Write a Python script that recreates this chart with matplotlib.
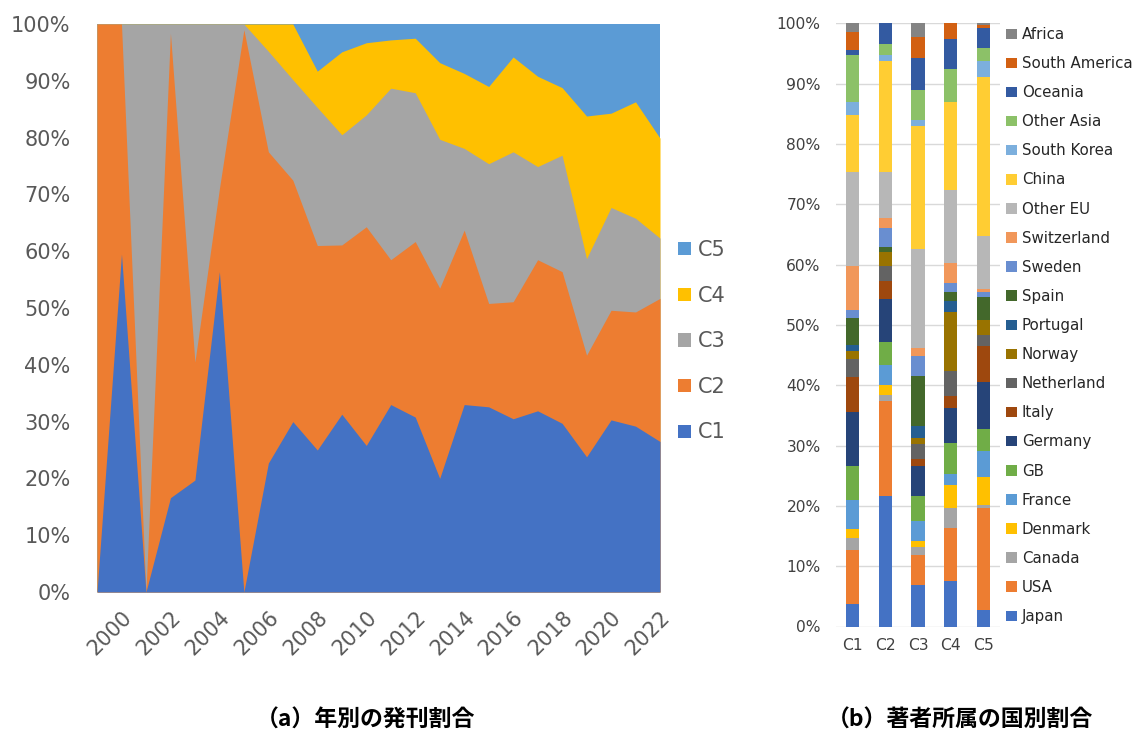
import matplotlib
matplotlib.use("Agg")
import matplotlib.pyplot as plt
from matplotlib.patches import Patch
import numpy as np

plt.rcParams['font.family'] = ['DejaVu Sans', 'Noto Sans CJK JP']

# ---- (a) yearly share of publications per cluster (%) ----
years = list(range(1999, 2023))
c1 = [0, 59.5, 0, 16.6, 19.7, 56.4, 0, 22.7, 30.0, 25.0, 31.3, 25.8,
      33.0, 30.8, 20.0, 33.0, 32.6, 30.5, 31.9, 29.7, 23.8, 30.3, 29.2, 26.5]
c2 = [100, 40.5, 0, 81.8, 20.8, 14.6, 99.0, 54.8, 42.5, 36.0, 29.8, 38.5,
      25.5, 30.9, 33.5, 30.7, 18.2, 20.6, 26.6, 26.7, 17.9, 19.3, 20.1, 25.2]
c3 = [0, 0, 100, 1.6, 59.5, 29.0, 1.0, 17.7, 17.7, 24.3, 19.4, 19.7,
      30.2, 26.2, 26.2, 14.4, 24.6, 26.4, 16.4, 20.5, 17.0, 18.1, 16.5, 10.6]
c4 = [0, 0, 0, 0, 0, 0, 0, 4.8, 9.8, 6.4, 14.6, 12.7,
      8.5, 9.6, 13.5, 13.2, 13.6, 16.7, 15.9, 11.9, 25.1, 16.6, 20.5, 17.6]
c5 = [0, 0, 0, 0, 0, 0, 0, 0, 0, 8.3, 4.9, 3.3,
      2.8, 2.5, 6.8, 8.7, 11.0, 5.8, 9.2, 11.2, 16.2, 15.7, 13.7, 20.1]
cluster_names = ['C1', 'C2', 'C3', 'C4', 'C5']
cluster_colors = ['#4472C4', '#ED7D31', '#A5A5A5', '#FFC000', '#5B9BD5']
year_labels = [str(y) for y in range(2000, 2023, 2)]

# ---- (b) author affiliation share per cluster (%) ----
countries = ['Japan', 'USA', 'Canada', 'Denmark', 'France', 'GB', 'Germany',
             'Italy', 'Netherland', 'Norway', 'Portugal', 'Spain', 'Sweden',
             'Switzerland', 'Other EU', 'China', 'South Korea', 'Other Asia',
             'Oceania', 'South America', 'Africa']
share_c1 = [3.8, 8.8, 2.0, 1.6, 4.7, 5.7, 8.9, 5.8, 3.0, 1.4, 1.0, 4.4, 1.4,
            7.2, 15.7, 9.4, 2.1, 7.9, 0.8, 3.0, 1.4]
share_c2 = [21.6, 15.8, 1.0, 1.6, 3.3, 3.8, 7.2, 2.9, 2.5, 2.4, 0.0, 0.8, 3.1,
            1.8, 7.6, 18.4, 0.9, 1.8, 3.5, 0.0, 0.0]
share_c3 = [6.9, 4.9, 1.4, 1.0, 3.3, 4.1, 5.0, 1.1, 2.6, 0.9, 2.1, 8.3, 3.3,
            1.3, 16.4, 20.4, 1.0, 5.0, 5.2, 3.6, 2.2]
share_c4 = [7.6, 8.8, 3.3, 3.7, 1.9, 5.2, 5.8, 1.9, 4.2, 9.8, 1.8, 1.4, 1.5,
            3.4, 12.0, 14.6, 0.0, 5.6, 4.9, 2.6, 0.0]
share_c5 = [2.8, 16.8, 0.5, 4.7, 4.3, 3.7, 7.8, 5.9, 1.8, 2.5, 0.0, 3.8, 0.9,
            0.5, 8.7, 26.4, 2.7, 2.1, 3.3, 0.6, 0.2]
country_colors = ['#4472C4', '#ED7D31', '#A5A5A5', '#FFC000', '#5B9BD5',
                  '#70AD47', '#264478', '#9E480E', '#636363', '#997300',
                  '#255E91', '#43682B', '#698ED0', '#F1975A', '#B7B7B7',
                  '#FFCD33', '#7CAFDD', '#8CC168', '#335AA1', '#D26012',
                  '#848484']

W, H = 1134, 733
fig = plt.figure(figsize=(W / 100, H / 100), dpi=100)


def fbox(x0, y0, x1, y1):
    """Pixel box (top-left origin) -> figure fraction rect."""
    return [x0 / W, 1 - y1 / H, (x1 - x0) / W, (y1 - y0) / H]


# ---------- panel (a): stacked area ----------
ax1 = fig.add_axes(fbox(97, 24, 660, 592))
series = np.array([c1, c2, c3, c4, c5], dtype=float)
cum = np.cumsum(series, axis=0)
# paint from the top layer down so neighbouring areas leave no seams
for k in range(len(cluster_names) - 1, -1, -1):
    ax1.fill_between(years, 0, cum[k], color=cluster_colors[k], linewidth=0)
ax1.set_xlim(years[0], years[-1])
ax1.set_ylim(0, 100)
ax1.set_yticks(range(0, 101, 10))
ax1.set_yticklabels([f'{v}%' for v in range(0, 101, 10)])
ax1.set_xticks(range(2000, 2023, 2))
ax1.set_xticklabels(year_labels, rotation=45, ha='right', va='top',
                    rotation_mode='anchor')
ax1.tick_params(axis='y', length=0, pad=19, labelsize=15, labelcolor='#595959')
ax1.tick_params(axis='x', length=0, pad=11, labelsize=15, labelcolor='#595959')
for s in ax1.spines.values():
    s.set_visible(False)

handles1 = [Patch(facecolor=cluster_colors[k], edgecolor='none',
                  label=cluster_names[k]) for k in range(4, -1, -1)]
fig.legend(handles=handles1, loc='upper left',
           bbox_to_anchor=(678 / W, 1 - 240 / H), frameon=False,
           fontsize=15, labelcolor='#595959', handlelength=0.6,
           handleheight=0.6, handletextpad=0.35, labelspacing=1.23,
           borderpad=0, borderaxespad=0)

# ---------- panel (b): 100% stacked bars ----------
ax2 = fig.add_axes(fbox(836, 23.3, 1000, 626.5))
shares = np.array([share_c1, share_c2, share_c3, share_c4, share_c5],
                  dtype=float)
xpos = np.arange(len(cluster_names))
bottom = np.zeros(len(cluster_names))
for j, name in enumerate(countries):
    vals = shares[:, j]
    ax2.bar(xpos, vals, width=0.4, bottom=bottom, color=country_colors[j],
            linewidth=0, zorder=3, label=name)
    bottom += vals
ax2.set_xlim(-0.51, 4.51)
ax2.set_ylim(0, 100)
ax2.set_yticks(range(0, 101, 10))
ax2.set_yticklabels([f'{v}%' for v in range(0, 101, 10)])
ax2.set_xticks(xpos)
ax2.set_xticklabels(cluster_names)
ax2.grid(axis='y', color='#D9D9D9', linewidth=1, zorder=0)
ax2.tick_params(axis='y', length=0, pad=11, labelsize=11.2, labelcolor='#404040')
ax2.tick_params(axis='x', length=0, pad=8, labelsize=11.2, labelcolor='#404040')
for s in ax2.spines.values():
    s.set_visible(False)

handles2 = [Patch(facecolor=country_colors[j], edgecolor='none',
                  label=countries[j]) for j in range(len(countries) - 1, -1, -1)]
fig.legend(handles=handles2, loc='upper left',
           bbox_to_anchor=(1006 / W, 1 - 27 / H), frameon=False,
           fontsize=10.8, labelcolor='#262626', handlelength=0.7,
           handleheight=0.7, handletextpad=0.35, labelspacing=0.94,
           borderpad=0, borderaxespad=0)

# ---------- captions ----------
cap_font = dict(family=['Noto Sans CJK JP'], fontweight='bold', fontsize=16.5,
                color='black', ha='center', va='center')
fig.text(366 / W, 1 - 720 / H, '（a）年別の発刊割合', **cap_font)
fig.text(960 / W, 1 - 720 / H, '（b）著者所属の国別割合', **cap_font)

fig.savefig('out.png', dpi=100)
